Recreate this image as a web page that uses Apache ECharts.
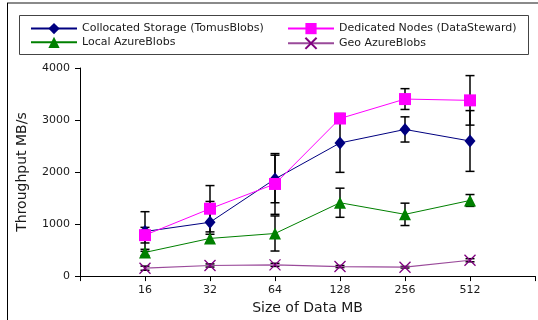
<!DOCTYPE html>
<html>
<head>
<meta charset="utf-8">
<script src="https://cdn.jsdelivr.net/npm/echarts@6/dist/echarts.min.js"></script>
<style>
html,body{margin:0;padding:0;background:#fff;}
#chart{width:538px;height:320px;}
</style>
</head>
<body>
<div id="chart"></div>
<script>
var categories = ['16', '32', '64', '128', '256', '512'];
var seriesNames = ['Collocated Storage (TomusBlobs)', 'Local AzureBlobs', 'Dedicated Nodes (DataSteward)', 'Geo AzureBlobs'];
var collocated = [857, 1035, 1867, 2559, 2819, 2597];
var collocatedErr = [381, 400, 457, 565, 242, 584];
var local = [455, 724, 819, 1410, 1187, 1454];
var localErr = [60, 80, 337, 280, 215, 114];
var dedicated = [787, 1295, 1771, 3029, 3403, 3378];
var dedicatedErr = [150, 445, 584, 80, 200, 476];
var geo = [152, 204, 216, 184, 171, 305];
var geoErr = [40, 30, 30, 20, 15, 30];
var yTicks = [0, 1000, 2000, 3000, 4000];

var FONT = 'DejaVu Sans';
var xPadMin = 0, xPadMax = categories.length + 1;

function pts(vals){ return vals.map(function(v,i){ return [i+1, v]; }); }
function errData(vals, errs){ return vals.map(function(v,i){ return [i+1, v-errs[i], v+errs[i]]; }); }

function errSeries(vals, errs){
  return {
    type: 'custom',
    z: 1,
    silent: true,
    data: errData(vals, errs),
    encode: {x: 0, y: [1, 2]},
    renderItem: function(params, api){
      var lo = api.coord([api.value(0), api.value(1)]);
      var hi = api.coord([api.value(0), api.value(2)]);
      var hw = 4.5;
      var st = {stroke: '#000', lineWidth: 1.5};
      return {type: 'group', children: [
        {type: 'line', shape: {x1: lo[0], y1: lo[1], x2: hi[0], y2: hi[1]}, style: st},
        {type: 'line', shape: {x1: lo[0]-hw, y1: lo[1], x2: lo[0]+hw, y2: lo[1]}, style: st},
        {type: 'line', shape: {x1: hi[0]-hw, y1: hi[1], x2: hi[0]+hw, y2: hi[1]}, style: st}
      ]};
    }
  };
}

var xSym = 'path://M0,0L10,10M10,0L0,10';

var chart = echarts.init(document.getElementById('chart'), null, {renderer: 'canvas'});
chart.setOption({
  animation: false,
  backgroundColor: '#fff',
  textStyle: {fontFamily: FONT},
  grid: {left: 80, right: 1, top: 68, bottom: 42, containLabel: false},
  graphic: [
    {type: 'line', z: 0, shape: {x1: 7, y1: 3, x2: 538, y2: 3}, style: {stroke: '#8a8a8a', lineWidth: 2}},
    {type: 'line', z: 0, shape: {x1: 7.5, y1: 3, x2: 7.5, y2: 320}, style: {stroke: '#000', lineWidth: 1}},
    {type: 'rect', z: 0, shape: {x: 19.5, y: 15.5, width: 509, height: 39}, style: {fill: '#fff', stroke: '#444', lineWidth: 1}}
  ],
  legend: [
    {data: [seriesNames[0], seriesNames[1]], orient: 'vertical', left: 25, top: 18, itemWidth: 46, itemHeight: 14, itemGap: 2.5,
     textStyle: {fontFamily: FONT, fontSize: 11, color: '#1a1a1a'}, selectedMode: false},
    {data: [seriesNames[2], seriesNames[3]], orient: 'vertical', left: 282, top: 18, itemWidth: 46, itemHeight: 14, itemGap: 2.5,
     textStyle: {fontFamily: FONT, fontSize: 11, color: '#1a1a1a'}, selectedMode: false}
  ],
  xAxis: {
    type: 'value', min: xPadMin, max: xPadMax, interval: 1,
    name: 'Size of Data MB', nameLocation: 'middle', nameGap: 17,
    nameTextStyle: {fontFamily: FONT, fontSize: 14, color: '#1a1a1a'},
    axisLine: {lineStyle: {color: '#000', width: 1}},
    axisTick: {show: true, length: 5, lineStyle: {color: '#000'}},
    axisLabel: {fontFamily: FONT, fontSize: 11, color: '#1a1a1a', margin: 9,
      showMinLabel: true, showMaxLabel: true,
      formatter: function(v){ return (v >= 1 && v <= categories.length) ? categories[v-1] : ''; }},
    splitLine: {show: false}
  },
  yAxis: {
    type: 'value', min: yTicks[0], max: yTicks[yTicks.length-1], interval: 1000,
    name: 'Throughput MB/s', nameLocation: 'middle', nameGap: 51,
    nameTextStyle: {fontFamily: FONT, fontSize: 14, color: '#1a1a1a'},
    axisLine: {show: true, lineStyle: {color: '#000', width: 1}},
    axisTick: {show: true, length: 5, lineStyle: {color: '#000'}},
    axisLabel: {fontFamily: FONT, fontSize: 11, color: '#1a1a1a', margin: 10,
      formatter: function(v){ return String(v); }},
    splitLine: {show: false}
  },
  series: [
    errSeries(collocated, collocatedErr),
    errSeries(local, localErr),
    errSeries(dedicated, dedicatedErr),
    errSeries(geo, geoErr),
    {name: seriesNames[0], type: 'line', z: 2, data: pts(collocated), symbol: 'diamond', symbolSize: [11, 13],
     itemStyle: {color: '#000080'}, lineStyle: {color: '#000080', width: 1}},
    {name: seriesNames[1], type: 'line', z: 2, data: pts(local), symbol: 'triangle', symbolSize: 12,
     itemStyle: {color: '#008000'}, lineStyle: {color: '#008000', width: 1}},
    {name: seriesNames[2], type: 'line', z: 2, data: pts(dedicated), symbol: 'rect', symbolSize: 12,
     itemStyle: {color: '#ff00ff'}, lineStyle: {color: '#ff00ff', width: 1}},
    {name: seriesNames[3], type: 'line', z: 2, data: pts(geo), symbol: xSym, symbolSize: 11,
     itemStyle: {color: '#800080', borderColor: '#800080', borderWidth: 1.3}, lineStyle: {color: '#9a4a9a', width: 1.2}}
  ]
});
</script>
</body>
</html>
